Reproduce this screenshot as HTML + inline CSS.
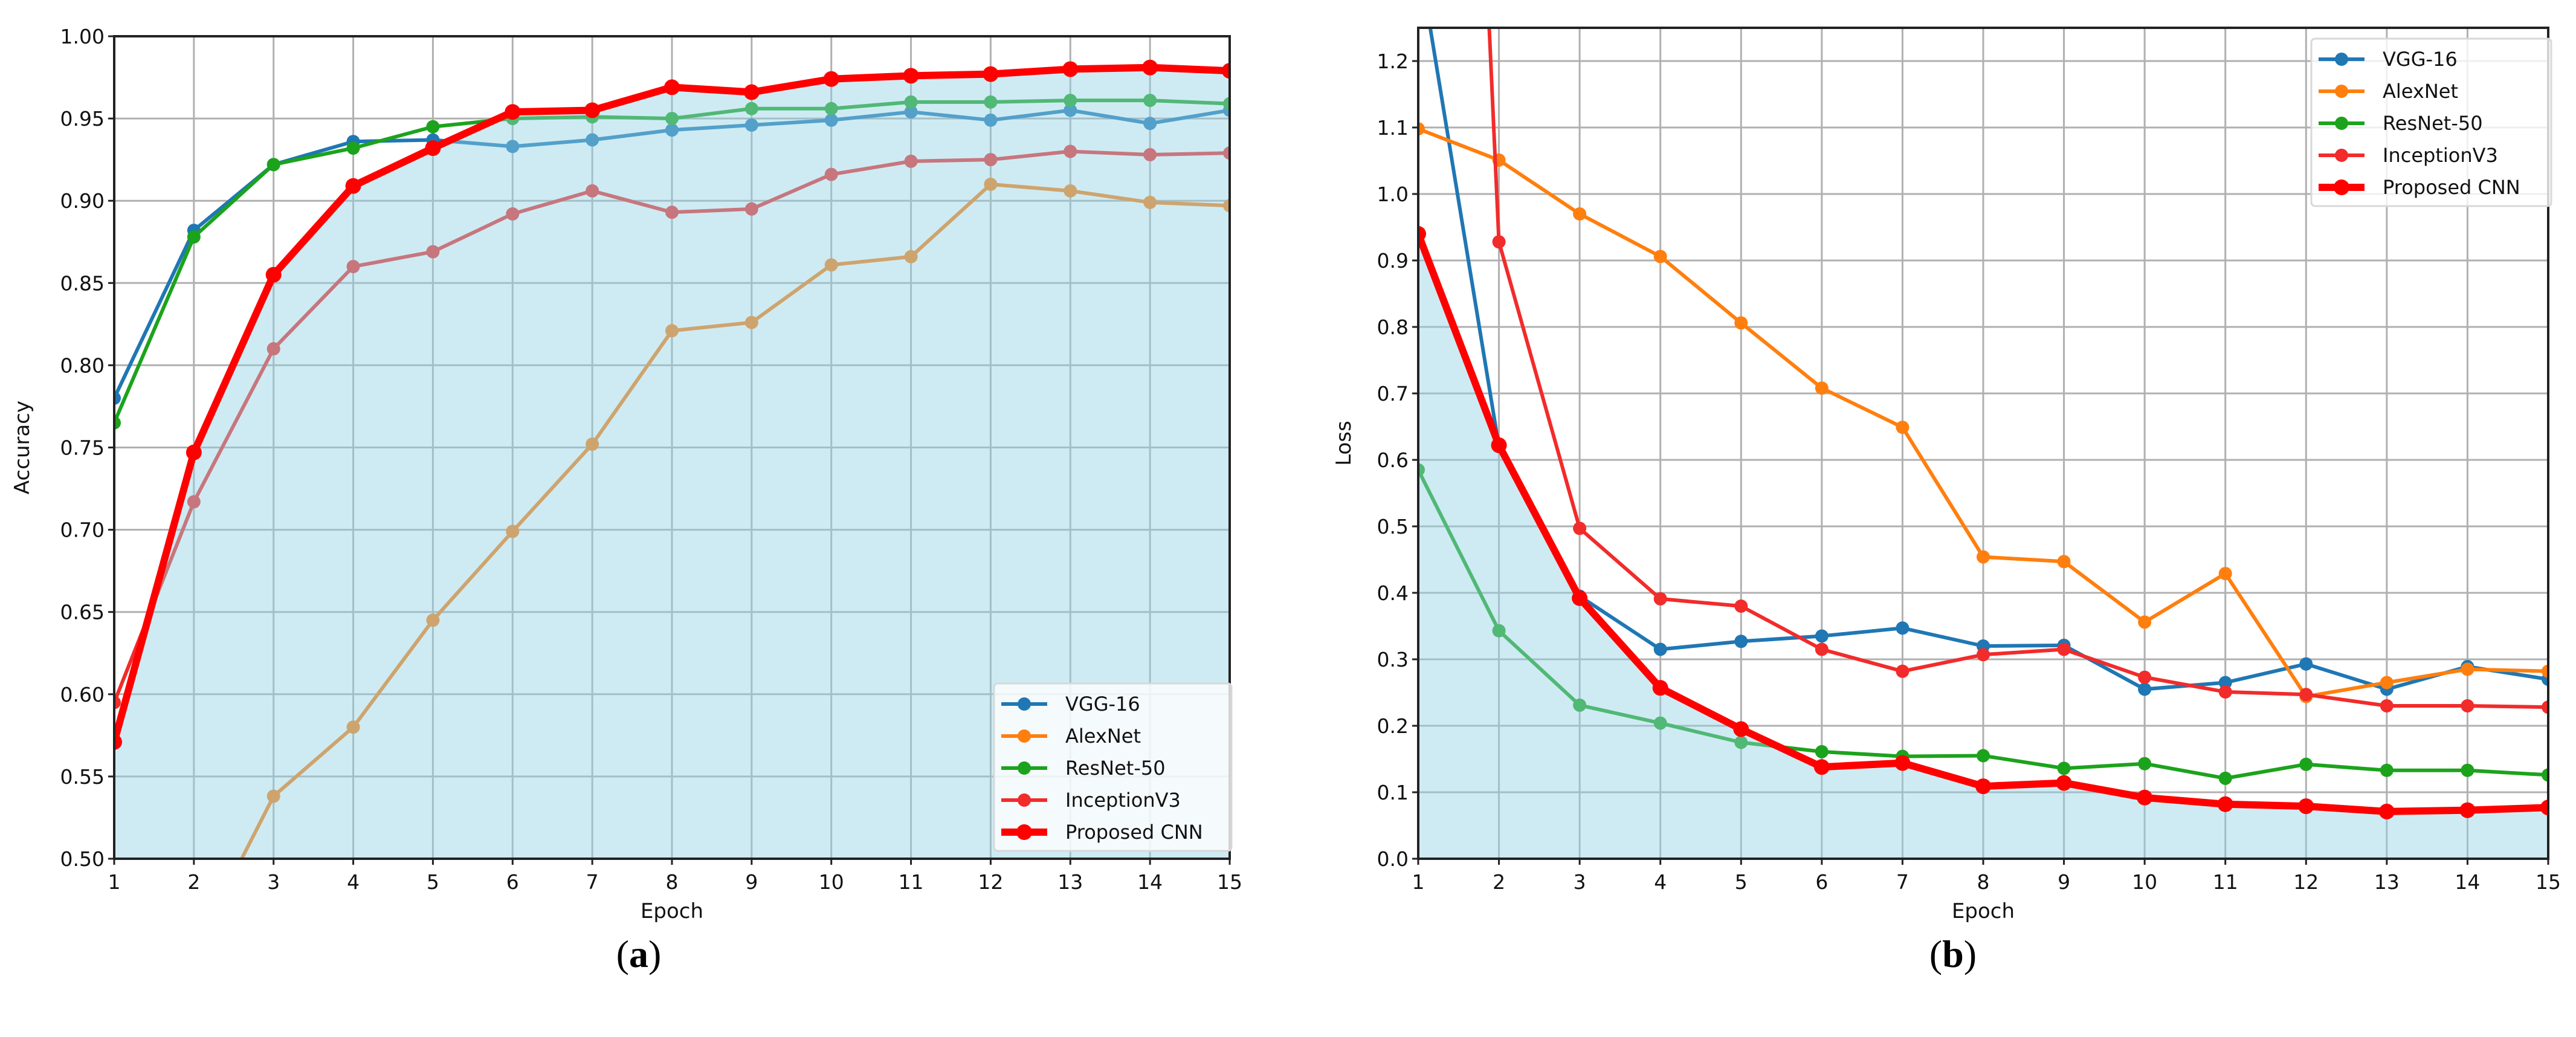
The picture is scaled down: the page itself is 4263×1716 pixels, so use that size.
<!DOCTYPE html>
<html><head><meta charset="utf-8"><style>
html,body{margin:0;padding:0;background:#fff;width:4263px;height:1716px;overflow:hidden}
svg{display:block;font-family:"DejaVu Sans","Liberation Sans",sans-serif}
</style></head><body>
<svg id="fig" width="4263" height="1716" viewBox="0 0 4263 1716">
<rect width="4263" height="1716" fill="#fff"/>
</svg>
<script>
const epochs=[1,2,3,4,5,6,7,8,9,10,11,12,13,14,15];
const accTicks=["0.50","0.55","0.60","0.65","0.70","0.75","0.80","0.85","0.90","0.95","1.00"];
const lossTicks=["0.0","0.1","0.2","0.3","0.4","0.5","0.6","0.7","0.8","0.9","1.0","1.1","1.2"];
const seriesNames=["VGG-16","AlexNet","ResNet-50","InceptionV3","Proposed CNN"];
const accVGG=[.78,.882,.922,.936,.937,.933,.937,.943,.946,.949,.954,.949,.955,.947,.955];
const accAlex=[.35,.443,.538,.580,.645,.699,.752,.821,.826,.861,.866,.910,.906,.899,.897];
const accRes=[.765,.878,.922,.932,.945,.950,.951,.950,.956,.956,.960,.960,.961,.961,.959];
const accInc=[.595,.717,.810,.860,.869,.892,.906,.893,.895,.916,.924,.925,.930,.928,.929];
const accProp=[.571,.747,.855,.909,.932,.954,.955,.969,.966,.974,.976,.977,.980,.981,.979];
const lossVGG=[1.36,.62,.395,.315,.327,.335,.347,.320,.321,.255,.265,.293,.255,.289,.270];
const lossAlex=[1.098,1.051,.970,.906,.806,.708,.649,.454,.447,.356,.429,.244,.265,.285,.282];
const lossRes=[.585,.343,.231,.204,.175,.161,.154,.155,.136,.143,.121,.142,.133,.133,.126];
const lossInc=[3.6,.928,.497,.391,.380,.315,.282,.307,.315,.273,.251,.247,.230,.230,.228];
const lossProp=[.940,.622,.392,.257,.195,.138,.144,.109,.114,.092,.082,.079,.071,.073,.077];
const colors=["#1f77b4","#ff7f0e","#1ca31c","#f22b2b","#ff0000"];
const NS="http://www.w3.org/2000/svg";
const svg=document.getElementById('fig');
function mk(tag,attrs,parent){const e=document.createElementNS(NS,tag);for(const k in attrs)e.setAttribute(k,attrs[k]);(parent||svg).appendChild(e);return e;}
function panel(id,x0,x1,yTop,yBot,ymin,ymax,ticks,yl,series,legend,caption,capX){
  const sx=v=>x0+(v-1)/(14)*(x1-x0);
  const sy=v=>yBot-(v-ymin)/(ymax-ymin)*(yBot-yTop);
  const g=mk('g',{});
  
  
  const cp=mk('clipPath',{id:id+'clip'},g);mk('rect',{x:x0,y:yTop,width:x1-x0,height:yBot-yTop},cp);
  epochs.forEach(e=>{const l=mk('line',{x1:sx(e),x2:sx(e),y1:yTop,y2:yBot,stroke:'#b0b0b0','stroke-width':3},g);
    });
  ticks.forEach(t=>{const v=parseFloat(t);const l=mk('line',{x1:x0,x2:x1,y1:sy(v),y2:sy(v),stroke:'#b0b0b0','stroke-width':3},g);
    });
  const plot=mk('g',{'clip-path':'url(#'+id+'clip)'},g);
  function drawSeries(vals,i,lw,r){
    const sg=mk('g',{},plot);
    
    
    mk('polyline',{points:vals.map((v,j)=>sx(epochs[j])+','+sy(v)).join(' '),fill:'none',stroke:colors[i],'stroke-width':lw,'stroke-linejoin':'round'},sg);
    vals.forEach((v,j)=>{const c=mk('circle',{cx:sx(epochs[j]),cy:sy(v),r:r,fill:colors[i]},sg);
      });
  }
  for(let i=0;i<4;i++)drawSeries(series[i],i,6,11);
  const prop=series[4];
  const pts=prop.map((v,j)=>sx(epochs[j])+','+sy(v));
  const fill=mk('polygon',{points:sx(1)+','+yBot+' '+pts.join(' ')+' '+sx(15)+','+yBot,fill:'#93d3e5','fill-opacity':0.45},plot);
  
  drawSeries(prop,4,12,13);
  mk('rect',{x:x0,y:yTop,width:x1-x0,height:yBot-yTop,fill:'none',stroke:'#222','stroke-width':4},g);
  epochs.forEach(e=>{mk('line',{x1:sx(e),x2:sx(e),y1:yBot,y2:yBot+10,stroke:'#222','stroke-width':3},g);
    const t=mk('text',{x:sx(e),y:yBot+50,'font-size':33,'text-anchor':'middle',fill:'#111'},g);t.textContent=e;
    });
  ticks.forEach(tk=>{const v=parseFloat(tk);mk('line',{x1:x0-10,x2:x0,y1:sy(v),y2:sy(v),stroke:'#222','stroke-width':3},g);
    const t=mk('text',{x:x0-16,y:sy(v)+12,'font-size':33,'text-anchor':'end',fill:'#111'},g);t.textContent=tk;
    });
  const xl=mk('text',{x:(x0+x1)/2,y:yBot+98,'font-size':34,'text-anchor':'middle',fill:'#111'},g);xl.textContent='Epoch';
  
  const ylt=mk('text',{x:yl,y:(yTop+yBot)/2,'font-size':34,'text-anchor':'middle',fill:'#111',transform:'rotate(-90 '+yl+' '+(yTop+yBot)/2+')'},g);ylt.textContent=id==='acc'?'Accuracy':'Loss';
  
  const lg=mk('g',{},g);
  mk('rect',{x:legend[0],y:legend[1],width:legend[2],height:legend[3],rx:6,fill:'#fff','fill-opacity':0.8,stroke:'#d8d8d8','stroke-width':3},lg);
  seriesNames.forEach((n,i)=>{const yy=legend[1]+34+i*53;const e=mk('g',{},lg);
    
    mk('line',{x1:legend[0]+12,x2:legend[0]+88,y1:yy,y2:yy,stroke:colors[i],'stroke-width':i===4?12:6},e);
    mk('circle',{cx:legend[0]+50,cy:yy,r:i===4?13:11,fill:colors[i]},e);
    const t=mk('text',{x:legend[0]+118,y:yy+11,'font-size':32,fill:'#111'},e);t.textContent=n;});
  const c=mk('text',{x:capX,y:1600,'font-size':64,'text-anchor':'middle',fill:'#000','font-family':'"Liberation Serif",serif'},g);
  c.innerHTML='(<tspan font-weight="bold">'+caption+'</tspan>)';
  
}
panel('acc',189,2035,60,1421,0.5,1.0,accTicks,48,[accVGG,accAlex,accRes,accInc,accProp],[1645,1131,393,277],'a',1057);
panel('loss',2347,4217,46,1421,0,1.25,lossTicks,2235,[lossVGG,lossAlex,lossRes,lossInc,lossProp],[3825,64,397,277],'b',3232);
</script>
</body></html>
